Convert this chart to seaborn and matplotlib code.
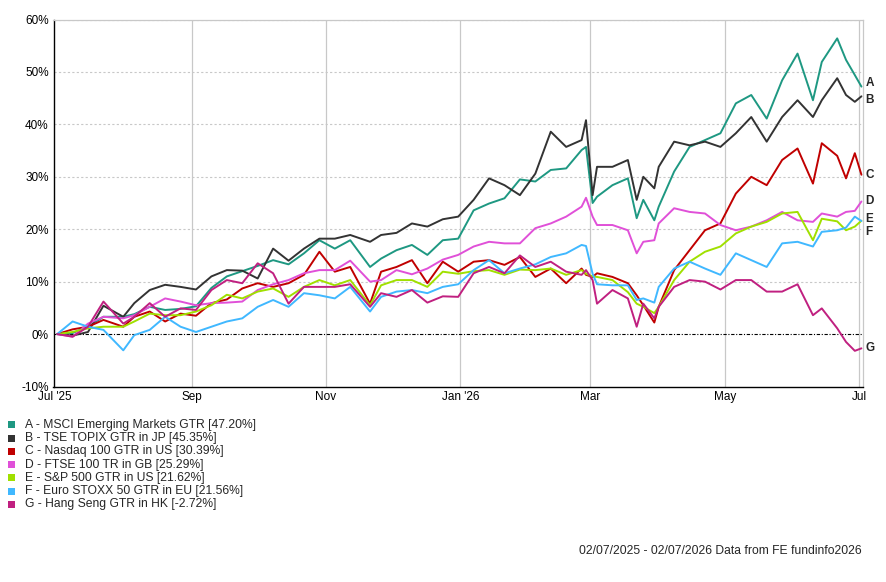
import matplotlib
matplotlib.use("Agg")
import matplotlib.pyplot as plt
import pandas as pd
import seaborn as sns
from matplotlib.patches import Rectangle
from matplotlib.ticker import FuncFormatter

dates = [
    "2025-07-02", "2025-07-09", "2025-07-16", "2025-07-23",
    "2025-08-01", "2025-08-06", "2025-08-13", "2025-08-20", "2025-08-27",
    "2025-09-03", "2025-09-10", "2025-09-17", "2025-09-24",
    "2025-10-01", "2025-10-08", "2025-10-15", "2025-10-22", "2025-10-29",
    "2025-11-05", "2025-11-12", "2025-11-21", "2025-11-26",
    "2025-12-03", "2025-12-10", "2025-12-17", "2025-12-24", "2025-12-31",
    "2026-01-07", "2026-01-14", "2026-01-21", "2026-01-28",
    "2026-02-04", "2026-02-11", "2026-02-18", "2026-02-25", "2026-02-27",
    "2026-03-02", "2026-03-04", "2026-03-11", "2026-03-18", "2026-03-22", "2026-03-25", "2026-03-30",
    "2026-04-01", "2026-04-08", "2026-04-15", "2026-04-22", "2026-04-29",
    "2026-05-06", "2026-05-13", "2026-05-20", "2026-05-27",
    "2026-06-03", "2026-06-10", "2026-06-14", "2026-06-21", "2026-06-25", "2026-06-29",
    "2026-07-02",
]

msci_em = [
    0, 0.2, 1.4, 3.3,
    3.3, 3.8, 5.2, 4.6, 4.8,
    5.3, 8.8, 11.0, 12.0,
    13.0, 14.1, 13.3, 15.4, 17.9,
    16.3, 17.9, 12.8, 14.4,
    16.0, 17.0, 15.1, 17.9, 18.2,
    23.6, 24.9, 25.9, 29.5,
    29.1, 31.3, 31.6, 35.1, 35.7,
    25.0, 26.2, 28.4, 29.7, 22.1, 25.6, 21.7,
    24.3, 31.0, 35.7, 37.0, 38.3,
    44.0, 45.6, 41.1, 48.4,
    53.5, 44.6, 51.9, 56.4, 52.3, 49.4,
    47.20,
]
topix = [
    0, -0.3, 0.4, 5.4,
    3.3, 5.9, 8.4, 9.4, 9.0,
    8.5, 11.0, 12.2, 12.1,
    10.6, 16.3, 14.0, 16.3, 18.2,
    18.2, 18.9, 17.6, 18.9,
    19.3, 21.1, 20.5, 21.9, 22.4,
    25.6, 29.7, 28.4, 26.5,
    30.6, 38.6, 35.7, 37.0, 40.8,
    26.5, 31.9, 31.9, 33.2, 25.6, 30.0, 27.8,
    31.9, 36.7, 36.0, 36.7, 35.7,
    38.3, 41.4, 36.7, 41.4,
    44.6, 41.4, 44.6, 48.8, 45.6, 44.3,
    45.35,
]
nasdaq = [
    0, 0.9, 1.4, 2.7,
    1.4, 3.3, 4.3, 2.4, 3.9,
    3.5, 5.9, 6.6, 8.7,
    9.7, 9.0, 9.7, 11.3, 15.7,
    11.9, 12.8, 5.8, 11.9,
    12.8, 14.1, 9.7, 13.8, 11.9,
    13.8, 14.1, 13.2, 14.7,
    10.9, 12.5, 9.7, 12.5, 11.3,
    10.9, 11.6, 10.9, 9.7, 7.4, 5.5, 2.2,
    5.2, 12.2, 16.0, 19.8, 21.1,
    26.8, 30.0, 28.4, 33.2,
    35.4, 28.7, 36.4, 34.0, 29.7, 34.5,
    30.39,
]
ftse = [
    0, -0.5, 2.0, 3.3,
    3.0, 3.6, 5.2, 6.8, 6.2,
    5.5, 5.9, 6.0, 6.2,
    8.4, 9.5, 10.3, 11.6, 12.2,
    12.2, 14.0, 10.0, 10.3,
    12.2, 11.4, 12.5, 14.2, 15.1,
    16.7, 17.6, 17.3, 17.3,
    20.2, 21.1, 22.4, 24.3, 26.0,
    22.4, 20.8, 20.8, 19.8, 15.4, 17.6, 17.9,
    21.1, 24.0, 23.3, 23.0, 20.8,
    19.8, 20.5, 21.7, 23.3,
    21.7, 21.4, 23.0, 22.4, 23.3, 23.5,
    25.29,
]
sp500 = [
    0, 0.4, 1.1, 1.4,
    1.4, 2.4, 3.9, 3.6, 3.6,
    4.3, 5.5, 7.5, 6.8,
    8.1, 8.7, 7.1, 9.0, 10.3,
    9.3, 10.3, 5.5, 9.3,
    10.3, 10.3, 9.0, 11.9, 11.5,
    12.0, 12.2, 11.3, 12.3,
    12.2, 12.5, 11.3, 12.2, 11.5,
    11.0, 10.9, 10.3, 8.0, 5.8, 5.2, 4.0,
    5.2, 10.3, 13.8, 15.7, 16.7,
    19.2, 20.5, 21.4, 23.0,
    23.3, 17.9, 22.0, 21.5, 19.8, 20.5,
    21.62,
]
stoxx = [
    0, 2.4, 1.4, 0.8,
    -3.1, -0.2, 0.8, 3.3, 1.4,
    0.4, 1.4, 2.4, 3.0,
    5.2, 6.5, 5.2, 7.8, 7.4,
    6.8, 9.0, 4.3, 7.1,
    8.1, 8.4, 7.8, 9.0, 9.5,
    12.2, 14.1, 11.6, 12.5,
    13.3, 14.7, 15.4, 17.0, 16.8,
    11.5, 9.5, 9.3, 9.3, 6.5, 6.8, 6.0,
    9.0, 12.5, 13.8, 12.5, 11.3,
    15.4, 14.1, 12.8, 17.3,
    17.6, 16.7, 19.5, 19.8, 20.3, 22.4,
    21.56,
]
hang_seng = [
    0, -0.5, 1.4, 6.2,
    2.0, 3.3, 5.9, 3.3, 4.9,
    4.6, 8.4, 10.3, 9.7,
    13.5, 11.6, 5.8, 9.0, 9.0,
    9.0, 9.5, 5.2, 7.8,
    7.1, 8.4, 6.0, 7.2, 7.1,
    11.6, 12.8, 11.6, 15.0,
    12.8, 13.8, 11.9, 11.3, 12.2,
    10.3, 5.8, 8.4, 6.8, 1.4, 5.8, 3.0,
    5.2, 9.0, 10.3, 10.0, 8.5,
    10.3, 10.3, 8.1, 8.1,
    9.5, 3.6, 4.9, 1.1, -1.5, -3.2,
    -2.72,
]

letters = ["A", "B", "C", "D", "E", "F", "G"]
names = [
    "MSCI Emerging Markets GTR",
    "TSE TOPIX GTR in JP",
    "Nasdaq 100 GTR in US",
    "FTSE 100 TR in GB",
    "S&P 500 GTR in US",
    "Euro STOXX 50 GTR in EU",
    "Hang Seng GTR in HK",
]
colors = ["#1e9882", "#333333", "#c00000", "#e050d8", "#a0e000", "#40b8ff", "#c02080"]
series = [msci_em, topix, nasdaq, ftse, sp500, stoxx, hang_seng]

tick_dates = ["2025-07-01", "2025-09-01", "2025-11-01", "2026-01-01", "2026-03-01", "2026-05-01", "2026-07-01"]
tick_labels = ["Jul '25", "Sep", "Nov", "Jan '26", "Mar", "May", "Jul"]

sns.set_style("white")
plt.rcParams["font.family"] = ["Liberation Sans", "DejaVu Sans"]

frames = []
for letter, vals in zip(letters, series):
    frames.append(pd.DataFrame({"date": pd.to_datetime(dates), "value": vals, "series": letter}))
df = pd.concat(frames, ignore_index=True)

W, H = 886, 582
fig = plt.figure(figsize=(W / 100, H / 100), dpi=100)
ax = fig.add_axes([53.5 / W, 1 - 386.5 / H, 809.5 / W, 367 / H])

grid_col = "#c8c8c8"
ax.set_axisbelow(True)
for t in pd.to_datetime(tick_dates[1:]):
    ax.axvline(t, color=grid_col, lw=0.9, zorder=0)
for v in range(10, 70, 10):
    ax.axhline(v, color=grid_col, lw=0.8, linestyle=(0, (2, 2)), zorder=0)
ax.axhline(0, color="black", lw=0.8, linestyle=(0, (3, 1.5, 1, 1.5)), zorder=1)

sns.lineplot(
    data=df, x="date", y="value", hue="series",
    palette=dict(zip(letters, colors)), linewidth=1.4,
    legend=False, ax=ax, zorder=2,
)

ax.set_xlim(pd.Timestamp("2025-06-30 08:00"), pd.Timestamp("2026-07-02 17:00"))
ax.set_ylim(-10, 60)
ax.set_yticks(range(-10, 70, 10))
ax.yaxis.set_major_formatter(FuncFormatter(lambda v, _: f"{v:.0f}%"))
ax.set_xticks(pd.to_datetime(tick_dates))
ax.set_xticklabels(tick_labels)
ax.set_xlabel("")
ax.set_ylabel("")
ax.tick_params(axis="both", length=2.5, width=0.8, pad=1, labelsize=8.5, colors="black")

for side in ["left", "bottom"]:
    ax.spines[side].set_color("black")
    ax.spines[side].set_linewidth(1.0)
for side in ["top", "right"]:
    ax.spines[side].set_color(grid_col)
    ax.spines[side].set_linewidth(0.9)

# end-of-line letters, close pairs nudged apart like the original
nudges = {"A": 2.5, "B": -2.5, "E": 1.5, "F": -8}
end_date = pd.to_datetime(dates[-1])
for letter, vals in zip(letters, series):
    ax.annotate(
        letter, xy=(end_date, vals[-1]), xytext=(3, nudges.get(letter, 0)),
        textcoords="offset points", ha="left", va="center",
        fontsize=8.5, fontweight="bold", annotation_clip=False,
    )

# legend block under the chart
for i, (letter, name, col, vals) in enumerate(zip(letters, names, colors, series)):
    y = 424.7 + 13.3 * i
    fig.add_artist(Rectangle((8 / W, 1 - (y + 3.5) / H), 7 / W, 7 / H,
                             transform=fig.transFigure, color=col, lw=0))
    fig.text(25 / W, 1 - y / H, f"{letter} - {name} [{vals[-1]:.2f}%]",
             va="center", ha="left", fontsize=8.7)

fig.text(862 / W, 1 - 551 / H, "02/07/2025 - 02/07/2026 Data from FE fundinfo2026",
         ha="right", va="center", fontsize=8.7)

fig.savefig("out.png", dpi=100)
